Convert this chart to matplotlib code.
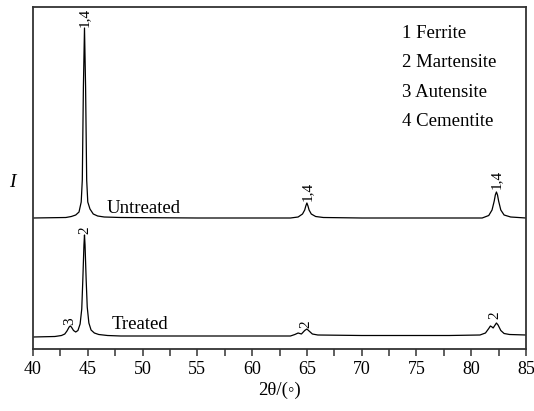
import matplotlib
matplotlib.use('Agg')
import matplotlib.pyplot as plt
from matplotlib.ticker import MultipleLocator

plt.rcParams['font.family'] = ['Liberation Serif', 'DejaVu Serif']
plt.rcParams['mathtext.fontset'] = 'stix'

# XRD patterns (2theta in degrees, intensity in arbitrary units)
untreated_x = [40.0, 43.0, 43.5, 43.9, 44.2, 44.4, 44.5, 44.6, 44.7, 44.8, 44.9, 45.0,
               45.2, 45.5, 45.9, 46.5, 48.0, 55.0, 63.5, 64.2, 64.6, 64.8, 64.9, 65.0,
               65.1, 65.2, 65.4, 65.8, 66.5, 70.0, 78.0, 81.0, 81.6, 81.9, 82.1, 82.2,
               82.3, 82.4, 82.5, 82.7, 83.0, 83.6, 85.0]
untreated_y = [131, 131.5, 132.5, 134, 137, 147, 169, 262, 321, 262, 169, 147,
               140, 135, 133, 132, 131.5, 131, 131, 132, 135, 139, 143, 146,
               143, 139, 135, 132.5, 131.5, 131, 131, 131, 133.5, 139, 148, 154,
               157, 154, 148, 139, 134, 132, 131]

treated_x = [40.0, 42.0, 42.6, 42.9, 43.1, 43.3, 43.4, 43.5, 43.7, 43.9, 44.1, 44.3,
             44.45, 44.55, 44.65, 44.7, 44.75, 44.85, 44.95, 45.1, 45.3, 45.6, 46.0, 46.8,
             48.0, 55.0, 63.5, 63.9, 64.2, 64.5, 64.8, 65.0, 65.2, 65.5, 66.0, 70.0,
             78.0, 80.8, 81.3, 81.6, 81.75, 81.9, 82.0, 82.15, 82.3, 82.45, 82.7, 83.0,
             83.5, 85.0]
treated_y = [12, 12.5, 13.5, 15, 18, 22, 23, 22, 18.5, 17, 18.5, 25,
             40, 70, 104, 114, 104, 70, 42, 26, 19, 16, 14.5, 13.5,
             13, 13, 13, 14.5, 16, 15, 18.5, 20, 18, 15, 14, 13.5,
             13.5, 14, 16, 20.5, 23, 22, 21, 23.5, 26, 24, 18.5, 15.5,
             14.5, 14]

# peak labels: (position, text, y)
peak_labels = [(44.7, '1,4', 322), (65.0, '1,4', 148), (82.3, '1,4', 160),
               (43.35, '3', 24), (44.7, '2', 115), (64.95, '2', 21), (82.15, '2', 30)]
phases = ['1 Ferrite', '2 Martensite', '3 Autensite', '4 Cementite']

fig = plt.figure(figsize=(5.34, 4.11), dpi=100)
ax = fig.add_axes([33 / 534, 1 - 349 / 411, 493 / 534, 342 / 411])

ax.plot(untreated_x, untreated_y, color='black', lw=0.9)
ax.plot(treated_x, treated_y, color='black', lw=0.9)

for x, txt, y in peak_labels:
    ax.text(x, y, txt, rotation=90, ha='center', va='bottom', fontsize=11)

ax.text(46.75, 136, 'Untreated', fontsize=13.5, va='baseline')
ax.text(47.2, 20, 'Treated', fontsize=13.5, va='baseline')

for i, p in enumerate(phases):
    ax.text(73.7, 316 - i * 29.5, p, fontsize=13.5, va='center')

ax.set_xlim(40, 85)
ax.set_ylim(0, 342)
ax.xaxis.set_major_locator(MultipleLocator(5))
ax.xaxis.set_minor_locator(MultipleLocator(2.5))
ax.tick_params(axis='x', which='both', direction='out', length=5, width=1.1,
               colors='#333333', labelcolor='black', labelsize=13)
ax.set_yticks([])
for s in ax.spines.values():
    s.set_color('#333333')
    s.set_linewidth(1.3)

ax.set_xlabel('2\u03b8/(\u25e6)', fontsize=13.5, labelpad=3)
fig.text(12 / 534, 1 - 182 / 411, 'I', fontsize=14, style='italic', ha='center', va='center')

fig.savefig('out.png', dpi=100)
